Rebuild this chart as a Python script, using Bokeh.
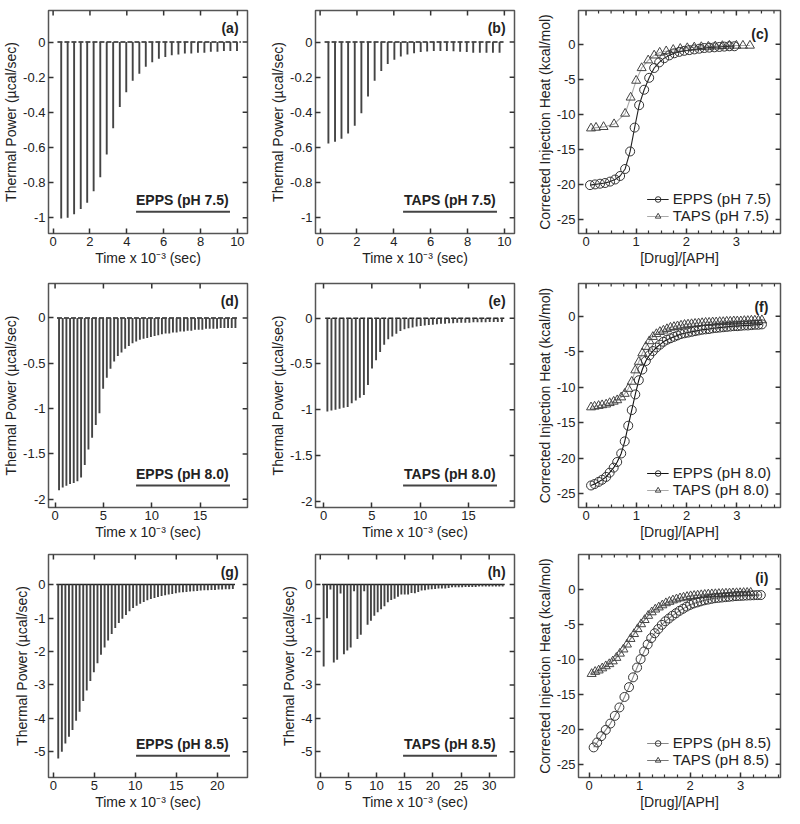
from bokeh.plotting import figure
from bokeh.models import Range1d, FixedTicker, CustomJSTickFormatter, Label
from bokeh.layouts import gridplot
from bokeh.embed import file_html
from bokeh.resources import INLINE

# ---------------- data ----------------
# thermograms: injection times (x 10^-3 s) and peak depths (ucal/s)
a_t = [0.44, 0.79, 1.14, 1.50, 1.85, 2.20, 2.56, 2.91, 3.26, 3.62, 3.97, 4.32, 4.68, 5.03,
       5.38, 5.74, 6.09, 6.44, 6.80, 7.15, 7.50, 7.86, 8.21, 8.56, 8.92, 9.27, 9.62, 9.98]
a_p = [-1.005, -1.0, -0.98, -0.95, -0.915, -0.85, -0.77, -0.64, -0.49, -0.37, -0.285, -0.22, -0.18, -0.14,
       -0.115, -0.095, -0.085, -0.075, -0.07, -0.065, -0.065, -0.06, -0.06, -0.055, -0.055, -0.05, -0.05, -0.05]

b_t = [0.45, 0.81, 1.16, 1.52, 1.88, 2.24, 2.60, 2.96, 3.32, 3.67, 4.03, 4.38, 4.74, 5.10,
       5.46, 5.81, 6.17, 6.53, 6.88, 7.24, 7.60, 7.96, 8.31, 8.67, 9.03, 9.38, 9.74]
b_p = [-0.577, -0.568, -0.55, -0.52, -0.476, -0.405, -0.31, -0.22, -0.165, -0.125, -0.10, -0.082, -0.07, -0.063,
       -0.057, -0.053, -0.05, -0.05, -0.05, -0.052, -0.055, -0.057, -0.06, -0.06, -0.06, -0.06, -0.06]

d_t = [0.41, 0.79, 1.17, 1.55, 1.93, 2.31, 2.69, 3.07, 3.45, 3.83, 4.21, 4.59, 4.97, 5.35, 5.73,
       6.11, 6.49, 6.87, 7.25, 7.63, 8.01, 8.39, 8.77, 9.15, 9.53, 9.91, 10.29, 10.67, 11.05, 11.43,
       11.81, 12.19, 12.57, 12.95, 13.33, 13.71, 14.09, 14.47, 14.85, 15.23, 15.61, 15.99, 16.37,
       16.75, 17.13, 17.51, 17.89, 18.27, 18.65]
d_p = [-1.90, -1.87, -1.85, -1.83, -1.82, -1.80, -1.76, -1.62, -1.45, -1.32, -1.18, -1.05, -0.78, -0.66, -0.56,
       -0.48, -0.42, -0.38, -0.34, -0.31, -0.28, -0.26, -0.24, -0.23, -0.22, -0.21, -0.20, -0.19, -0.18, -0.17,
       -0.17, -0.16, -0.16, -0.15, -0.15, -0.14, -0.14, -0.13, -0.13, -0.13, -0.12, -0.12, -0.12,
       -0.12, -0.11, -0.11, -0.11, -0.11, -0.11]

e_t = [0.40, 0.82, 1.24, 1.66, 2.08, 2.50, 2.92, 3.34, 3.76, 4.18, 4.60, 5.02, 5.44, 5.86, 6.28,
       6.70, 7.12, 7.54, 7.96, 8.38, 8.80, 9.22, 9.64, 10.06, 10.48, 10.90, 11.32, 11.74, 12.16, 12.58,
       13.00, 13.42, 13.84, 14.26, 14.68, 15.10, 15.52, 15.94, 16.36, 16.78, 17.20, 17.62, 18.04, 18.46]
e_p = [-1.02, -1.01, -1.0, -0.99, -0.98, -0.97, -0.93, -0.90, -0.87, -0.84, -0.73, -0.55, -0.46, -0.37, -0.29,
       -0.23, -0.20, -0.17, -0.14, -0.12, -0.11, -0.10, -0.09, -0.085, -0.08, -0.075, -0.07, -0.065, -0.06, -0.06,
       -0.055, -0.055, -0.05, -0.05, -0.05, -0.05, -0.045, -0.045, -0.045, -0.045, -0.04, -0.04, -0.04, -0.04]

g_t = [0.59, 1.03, 1.46, 1.90, 2.33, 2.77, 3.20, 3.64, 4.07, 4.51, 4.94, 5.38, 5.81, 6.25, 6.68,
       7.12, 7.55, 7.99, 8.42, 8.86, 9.29, 9.73, 10.16, 10.60, 11.03, 11.47, 11.90, 12.34, 12.77, 13.21,
       13.64, 14.08, 14.51, 14.95, 15.38, 15.82, 16.25, 16.69, 17.12, 17.56, 17.99, 18.43, 18.86, 19.30,
       19.73, 20.17, 20.60, 21.04, 21.47, 21.91]
g_p = [-5.20, -5.00, -4.75, -4.55, -4.35, -4.07, -3.80, -3.48, -3.17, -2.88, -2.62, -2.35, -2.10, -1.88, -1.67,
       -1.48, -1.30, -1.15, -1.02, -0.91, -0.80, -0.70, -0.63, -0.57, -0.52, -0.47, -0.43, -0.40, -0.37, -0.34,
       -0.32, -0.30, -0.28, -0.26, -0.24, -0.23, -0.22, -0.21, -0.20, -0.19, -0.18, -0.17, -0.17, -0.16,
       -0.16, -0.15, -0.15, -0.14, -0.14, -0.13]

h_t = [0.6, 1.2, 1.8, 2.4, 3.0, 3.6, 4.2, 4.8, 5.4, 6.0, 6.6, 7.2, 7.8, 8.4, 9.0, 9.6, 10.2, 10.8,
       11.4, 12.0, 12.6, 13.2, 13.8, 14.4, 15.0, 15.6, 16.2, 16.8, 17.4, 18.0, 18.6, 19.2, 19.8, 20.4,
       21.0, 21.6, 22.2, 22.8, 23.4, 24.0, 24.6, 25.2, 25.8, 26.4, 27.0, 27.6, 28.2, 28.8, 29.4, 30.0,
       30.6, 31.2, 31.8, 32.4]
h_p = [-2.45, -1.01, -0.15, -2.33, -2.25, -0.27, -2.08, -1.97, -1.88, -0.20, -1.63, -1.50, -0.20, -1.20,
       -1.08, -0.93, -0.83, -0.74, -0.65, -0.53, -0.46, -0.42, -0.36, -0.30, -0.30, -0.30, -0.25, -0.26,
       -0.22, -0.18, -0.17, -0.15, -0.14, -0.13, -0.12, -0.12, -0.12, -0.10, -0.08, -0.08, -0.08, -0.08,
       -0.07, -0.07, -0.07, -0.07, -0.06, -0.06, -0.06, -0.06, -0.06, -0.06, -0.06, -0.06]

# binding isotherms: [Drug]/[APH] and corrected injection heat (kcal/mol)
c_epps_x = [0.08, 0.18, 0.28, 0.38, 0.48, 0.58, 0.68, 0.78, 0.88, 0.97, 1.06, 1.16, 1.26, 1.36, 1.46,
            1.56, 1.66, 1.76, 1.86, 1.96, 2.06, 2.16, 2.26, 2.36, 2.46, 2.56, 2.66, 2.76, 2.86, 2.96]
c_epps_y = [-20.1, -20.0, -19.9, -19.8, -19.6, -19.3, -18.8, -17.8, -15.3, -11.9, -8.7, -6.5, -4.8, -3.4, -2.6,
            -2.0, -1.6, -1.3, -1.1, -0.95, -0.85, -0.75, -0.65, -0.55, -0.5, -0.45, -0.4, -0.35, -0.3, -0.3]
c_taps_x = [0.1, 0.2, 0.35, 0.56, 0.78, 0.89, 1.0, 1.11, 1.24, 1.36, 1.47, 1.6, 1.74, 1.88, 2.02,
            2.16, 2.3, 2.44, 2.58, 2.72, 2.86, 3.0, 3.13, 3.27]
c_taps_y = [-12.0, -11.9, -11.8, -11.4, -9.9, -7.6, -5.2, -3.4, -2.3, -1.6, -1.2, -1.0, -0.8, -0.65, -0.55,
            -0.45, -0.4, -0.35, -0.3, -0.25, -0.2, -0.2, -0.2, -0.2]

f_x = [0.10, 0.17, 0.25, 0.32, 0.40, 0.47, 0.55, 0.62, 0.70, 0.77, 0.84, 0.91, 0.98, 1.05, 1.12, 1.19,
       1.26, 1.33, 1.40, 1.47, 1.54, 1.61, 1.68, 1.75, 1.82, 1.89, 1.96, 2.03, 2.10, 2.17, 2.24, 2.31,
       2.38, 2.45, 2.52, 2.59, 2.66, 2.73, 2.80, 2.87, 2.94, 3.01, 3.08, 3.15, 3.22, 3.29, 3.36, 3.43, 3.50]
f_epps_y = [-23.8, -23.6, -23.3, -23.0, -22.6, -22.0, -21.3, -20.5, -19.3, -17.6, -15.4, -13.2, -11.0, -9.0,
            -7.5, -6.3, -5.5, -4.9, -4.4, -4.0, -3.6, -3.3, -3.1, -2.9, -2.7, -2.5, -2.4, -2.3, -2.2, -2.1,
            -2.0, -1.9, -1.85, -1.8, -1.7, -1.65, -1.6, -1.55, -1.5, -1.45, -1.4, -1.4, -1.35, -1.3, -1.3,
            -1.25, -1.2, -1.2, -1.15]
f_taps_y = [-12.8, -12.7, -12.6, -12.5, -12.4, -12.2, -12.0, -11.8, -11.4, -10.9, -10.2, -9.2, -7.6, -6.4,
            -5.2, -4.3, -3.5, -2.9, -2.5, -2.2, -2.0, -1.8, -1.6, -1.5, -1.4, -1.3, -1.2, -1.15, -1.1, -1.05,
            -1.0, -0.95, -0.9, -0.9, -0.85, -0.85, -0.8, -0.8, -0.75, -0.75, -0.7, -0.7, -0.7, -0.65, -0.65,
            -0.6, -0.6, -0.6, -0.55]

i_epps_x = [0.09, 0.16, 0.24, 0.33, 0.42, 0.51, 0.60, 0.70, 0.79, 0.87, 0.95, 1.02, 1.09, 1.16, 1.23, 1.30,
            1.37, 1.44, 1.51, 1.58, 1.65, 1.72, 1.79, 1.86, 1.93, 2.00, 2.07, 2.14, 2.21, 2.28, 2.35, 2.42,
            2.49, 2.56, 2.63, 2.70, 2.77, 2.84, 2.91, 2.98, 3.05, 3.12, 3.19, 3.26, 3.33, 3.40]
i_epps_y = [-22.6, -21.9, -21.0, -20.1, -19.2, -18.1, -16.9, -15.4, -14.0, -12.6, -11.2, -10.0, -8.9, -7.9,
            -7.0, -6.3, -5.7, -5.1, -4.6, -4.2, -3.8, -3.45, -3.1, -2.8, -2.5, -2.25, -2.05, -1.9, -1.75, -1.6,
            -1.5, -1.4, -1.3, -1.25, -1.2, -1.15, -1.1, -1.05, -1.0, -0.98, -0.95, -0.92, -0.9, -0.88, -0.86, -0.85]
i_taps_x = [0.05, 0.12, 0.19, 0.26, 0.33, 0.40, 0.47, 0.54, 0.61, 0.68, 0.75, 0.82, 0.89, 0.96, 1.03, 1.10,
            1.17, 1.24, 1.31, 1.38, 1.45, 1.52, 1.59, 1.66, 1.73, 1.80, 1.87, 1.94, 2.01, 2.08, 2.15, 2.22,
            2.29, 2.36, 2.43, 2.50, 2.57, 2.64, 2.71, 2.78, 2.85, 2.92, 2.99, 3.06, 3.13, 3.20]
i_taps_y = [-12.1, -11.8, -11.6, -11.3, -11.0, -10.7, -10.3, -9.8, -9.2, -8.6, -7.9, -7.1, -6.4, -5.7, -5.0,
            -4.4, -3.8, -3.3, -2.9, -2.6, -2.3, -2.0, -1.8, -1.6, -1.45, -1.3, -1.2, -1.1, -1.0, -0.95, -0.9,
            -0.85, -0.8, -0.75, -0.72, -0.7, -0.67, -0.65, -0.62, -0.6, -0.58, -0.56, -0.55, -0.53, -0.52, -0.5]

# tick values
thermo_ticks_1y = [-1, -0.8, -0.6, -0.4, -0.2, 0]
thermo_ticks_1x = [0, 2, 4, 6, 8, 10]
thermo_ticks_2y = [-2, -1.5, -1, -0.5, 0]
thermo_ticks_2x = [0, 5, 10, 15]
thermo_ticks_3y = [-5, -4, -3, -2, -1, 0]
thermo_ticks_g_x = [0, 5, 10, 15, 20]
thermo_ticks_h_x = [0, 5, 10, 15, 20, 25, 30]
iso_ticks_y = [-25, -20, -15, -10, -5, 0]
iso_ticks_x = [0, 1, 2, 3]
iso_minor_x = [0.25, 0.5, 0.75, 1.25, 1.5, 1.75, 2.25, 2.5, 2.75, 3.25, 3.5, 3.75]

# ---------------- styling / layout ----------------
FONT = "Liberation Sans"
INK = "#333333"
FRAME = "#555555"
COL_W = [267, 266, 251]
COL_MR = [20, 19, 4]
ROW_H = [281, 271, 264]
ROW_MT = [10, 2, 2]
ROW_MB = [48, 45, 39]
FRAME_W = 205
FRAME_H = 223
THERMO_Y = "Thermal Power (\u00b5cal/sec)"
THERMO_X = "Time x 10\u207b\u00b3 (sec)"
ISO_Y = "Corrected Injection Heat (kcal/mol)"
ISO_X = "[Drug]/[APH]"


def fmt():
    return CustomJSTickFormatter(code="return String(Math.round(tick*1000)/1000);")


def style_axis(ax, ticks, minor):
    ax.ticker = FixedTicker(ticks=ticks, minor_ticks=minor)
    ax.formatter = fmt()
    ax.axis_line_color = None
    ax.major_tick_in = 5
    ax.major_tick_out = 0
    ax.minor_tick_in = 3
    ax.minor_tick_out = 0
    ax.major_tick_line_color = INK
    ax.major_tick_line_width = 1.5
    ax.minor_tick_line_color = INK
    ax.minor_tick_line_width = 1.2
    ax.major_label_text_font = FONT
    ax.major_label_text_font_size = "13px"
    ax.major_label_text_color = "#222222"
    ax.major_label_standoff = 3
    ax.axis_label_text_font = FONT
    ax.axis_label_text_font_size = "14px"
    ax.axis_label_text_font_style = "normal"
    ax.axis_label_text_color = "#222222"
    ax.axis_label_standoff = 1


def base(row, col, xr, yr, xt, yt, xlabel, ylabel, xminor=()):
    p = figure(width=COL_W[col], height=ROW_H[row], x_range=Range1d(*xr), y_range=Range1d(*yr),
               output_backend="svg", toolbar_location=None,
               x_axis_label=xlabel, y_axis_label=ylabel,
               min_border_left=42, min_border_right=COL_MR[col],
               min_border_top=ROW_MT[row], min_border_bottom=ROW_MB[row])
    p.grid.visible = False
    p.outline_line_color = FRAME
    p.outline_line_width = 1.5
    p.background_fill_color = "white"
    p.border_fill_color = "white"
    style_axis(p.below[0], xt, list(xminor))
    style_axis(p.left[0], yt, [])
    # inward tick marks on the top and right frame edges (mirroring bottom/left ticks)
    x0, x1 = xr
    y0, y1 = yr
    dy = 5.0 / FRAME_H * (y1 - y0)
    dx = 5.0 / FRAME_W * (x1 - x0)
    p.segment(x0=list(xt), y0=[y1] * len(xt), x1=list(xt), y1=[y1 - dy] * len(xt),
              line_color=INK, line_width=1.5)
    if xminor:
        p.segment(x0=list(xminor), y0=[y1] * len(xminor), x1=list(xminor),
                  y1=[y1 - 0.6 * dy] * len(xminor), line_color=INK, line_width=1.2)
    p.segment(x0=[x1] * len(yt), y0=list(yt), x1=[x1 - dx] * len(yt), y1=list(yt),
              line_color=INK, line_width=1.5)
    return p


def fx(p, f):
    return p.x_range.start + f * (p.x_range.end - p.x_range.start)


def fy(p, f):
    return p.y_range.start + f * (p.y_range.end - p.y_range.start)


def letter(p, txt, xf, yf):
    p.add_layout(Label(x=fx(p, xf), y=fy(p, yf), text=txt, text_font=FONT, text_font_style="bold",
                       text_font_size="14px", text_align="right", text_baseline="middle",
                       text_color="#222222"))


def thermo(row, col, t, pk, xr, yr, xt, yt, tag, name, dashed):
    p = base(row, col, xr, yr, xt, yt, THERMO_X, THERMO_Y)
    p.line([t[0] - 0.3 * (t[1] - t[0]) - 0.1, t[-1] + 0.6 * (t[1] - t[0])], [0, 0],
           line_color="#222222", line_width=1.5, line_dash="5 2" if dashed else "solid")
    p.segment(x0=t, y0=[0] * len(t), x1=t, y1=pk, line_color="#444444", line_width=1.9)
    letter(p, tag, 0.955, 0.92)
    p.add_layout(Label(x=fx(p, 0.905), y=fy(p, 0.115), text=name, text_font=FONT,
                       text_font_style="bold", text_font_size="14px", text_align="right",
                       text_baseline="bottom", text_color="#222222"))
    p.segment(x0=[fx(p, 0.44)], y0=[fy(p, 0.098)], x1=[fx(p, 0.912)], y1=[fy(p, 0.098)],
              line_color="#444444", line_width=2)
    return p


def iso(row, col, xr, yr, tag, ex, ey, tx, ty, elab, tlab, ecol, tcol):
    p = base(row, col, xr, yr, iso_ticks_x, iso_ticks_y, ISO_X, ISO_Y, iso_minor_x)
    p.line(tx, ty, line_color=tcol, line_width=1.1, legend_label=tlab)
    p.line(ex, ey, line_color=ecol, line_width=1.1, legend_label=elab)
    p.scatter(tx, ty, marker="triangle", size=9, fill_color=None, line_color="#444444",
              line_width=1, legend_label=tlab)
    p.scatter(ex, ey, marker="circle", size=9, fill_color=None, line_color="#333333",
              line_width=1, legend_label=elab)
    letter(p, tag, 0.94, 0.895)
    lg = p.legend[0]
    lg.items = [lg.items[1], lg.items[0]]
    lg.location = "bottom_right"
    lg.label_text_font = FONT
    lg.label_text_font_size = "15px"
    lg.label_text_color = "#222222"
    lg.background_fill_alpha = 0
    lg.border_line_alpha = 0
    lg.glyph_width = 22
    lg.glyph_height = 14
    lg.label_height = 14
    lg.label_standoff = 4
    lg.spacing = 0
    lg.padding = 3
    lg.margin = 6
    return p


pa = thermo(0, 0, a_t, a_p, (-0.25, 10.55), (-1.09, 0.18), thermo_ticks_1x, thermo_ticks_1y,
            "(a)", "EPPS (pH 7.5)", True)
pb = thermo(0, 1, b_t, b_p, (-0.25, 10.55), (-1.09, 0.18), thermo_ticks_1x, thermo_ticks_1y,
            "(b)", "TAPS (pH 7.5)", True)
pc = iso(0, 2, (-0.15, 3.88), (-27.0, 4.8), "(c)", c_epps_x, c_epps_y, c_taps_x, c_taps_y,
         "EPPS (pH 7.5)", "TAPS (pH 7.5)", "#222222", "#aaaaaa")

pd = thermo(1, 0, d_t, d_p, (-0.68, 19.9), (-2.09, 0.38), thermo_ticks_2x, thermo_ticks_2y,
            "(d)", "EPPS (pH 8.0)", True)
pe = thermo(1, 1, e_t, e_p, (-0.83, 19.77), (-2.07, 0.38), thermo_ticks_2x, thermo_ticks_2y,
            "(e)", "TAPS (pH 8.0)", True)
pf = iso(1, 2, (-0.15, 3.87), (-26.9, 4.6), "(f)", f_x, f_epps_y, f_x, f_taps_y,
         "EPPS (pH 8.0)", "TAPS (pH 8.0)", "#111111", "#aaaaaa")

pg = thermo(2, 0, g_t, g_p, (-0.6, 23.7), (-5.77, 0.9), thermo_ticks_g_x, thermo_ticks_3y,
            "(g)", "EPPS (pH 8.5)", False)
ph = thermo(2, 1, h_t, h_p, (-0.85, 34.5), (-5.77, 0.9), thermo_ticks_h_x, thermo_ticks_3y,
            "(h)", "TAPS (pH 8.5)", False)
pi = iso(2, 2, (-0.21, 3.79), (-26.9, 4.94), "(i)", i_epps_x, i_epps_y, i_taps_x, i_taps_y,
         "EPPS (pH 8.5)", "TAPS (pH 8.5)", "#888888", "#777777")

grid = gridplot([[pa, pb, pc], [pd, pe, pf], [pg, ph, pi]], toolbar_location=None)

open("out.html", "w").write(file_html(grid, INLINE))
